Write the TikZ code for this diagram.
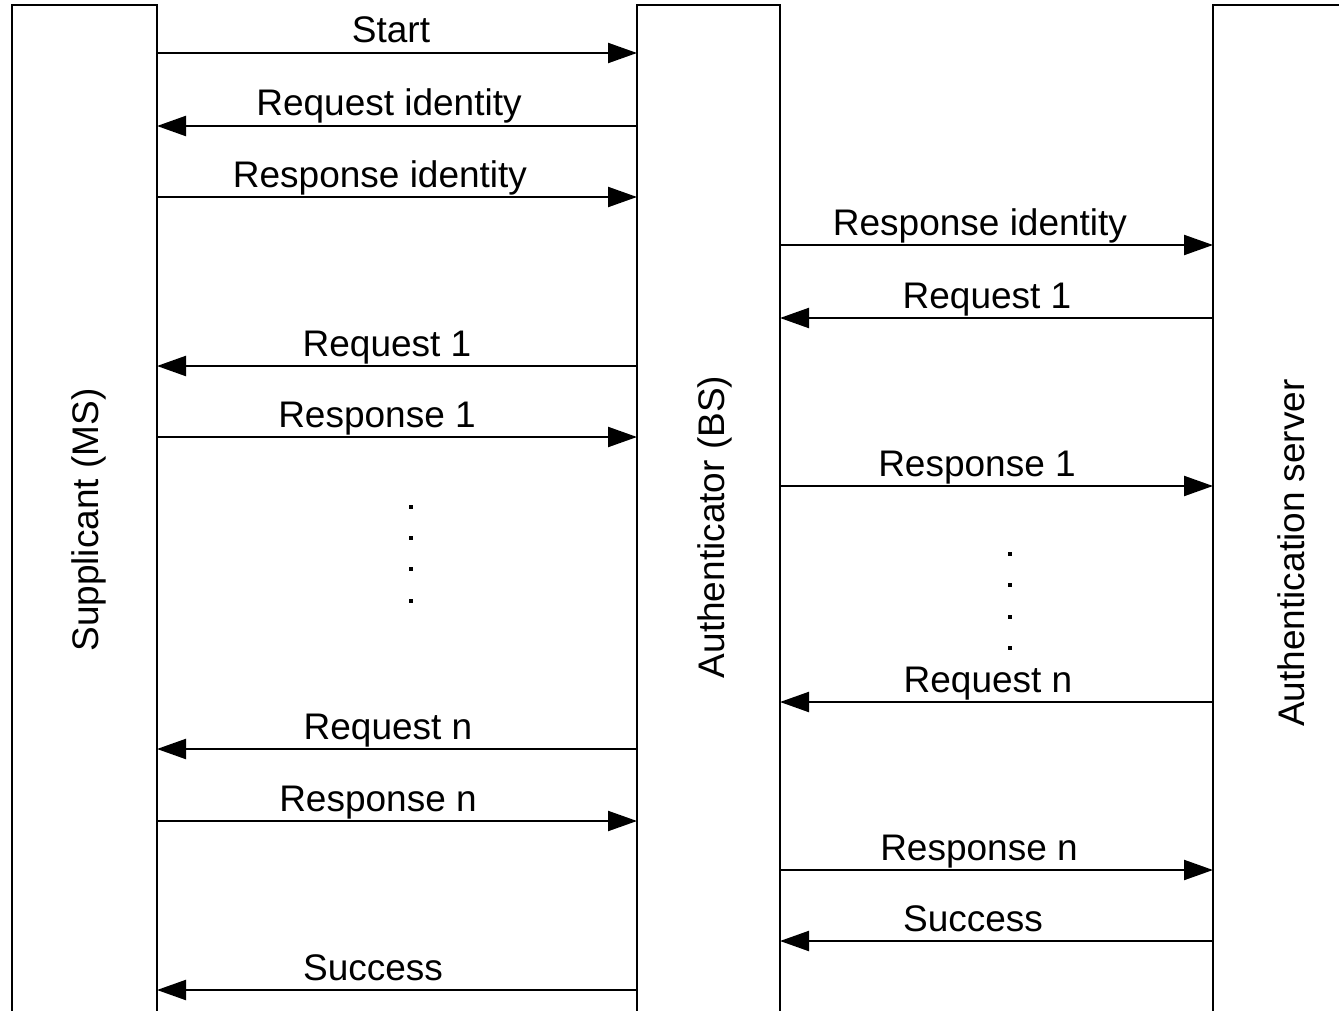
\documentclass[tikz,border=0pt]{standalone}
\usepackage{fontspec}
\setmainfont{Liberation Sans}
\usepackage{tikz}
\usetikzlibrary{arrows.meta}

\tikzset{
    life/.style={draw=black, line width=1.3pt},
    msg/.style={draw=black, line width=1.1pt},
    lbl/.style={anchor=base, inner sep=0pt, font=\fontsize{18.5pt}{22pt}\selectfont},
    side/.style={rotate=90, inner sep=0pt, font=\fontsize{18.5pt}{22pt}\selectfont},
    >={Triangle[length=14.5pt, width=10pt]}
}

\begin{document}
\begin{tikzpicture}[x=0.5pt, y=-0.5pt]
    \useasboundingbox (0,0) rectangle (1339,1011);
    % Lifelines
    \draw[life] (12,1011) |- (157,5) -- (157,1011);
    \draw[life] (637,1011) |- (780,5) -- (780,1011);
    \draw[life] (1213,1011) |- (1339,5);
    % Names
    \node[side] (Sup) at (89,520) {Supplicant (MS)};
    \node[side] (Auth) at (715,527) {Authenticator (BS)};
    \node[side] (Serv) at (1291,553) {Authentication server};
    % Supplicant <-> Authenticator
    \foreach \y/\tx/\tip/\txt in {53/391/->/Start, 126/389/<-/Request identity,
        197/380/->/Response identity, 366/387/<-/Request 1, 437/377/->/Response 1,
        749/388/<-/Request n, 821/378/->/Response n, 990/373/<-/Success} {
        \coordinate (Sup-\y) at (157,\y);
        \coordinate (Auth-\y) at (637,\y);
        \draw[msg,\tip] (Sup-\y) -- (Auth-\y);
        \node[lbl] (Lbl-\y) at (\tx,\y-10) {\txt};
    }
    % Authenticator <-> Authentication server
    \foreach \y/\tx/\tip/\txt in {245/980/->/Response identity, 318/987/<-/Request 1,
        486/977/->/Response 1, 702/988/<-/Request n, 870/979/->/Response n,
        941/973/<-/Success} {
        \coordinate (AuthR-\y) at (780,\y);
        \coordinate (Serv-\y) at (1213,\y);
        \draw[msg,\tip] (AuthR-\y) -- (Serv-\y);
        \node[lbl] (LblR-\y) at (\tx,\y-10) {\txt};
    }
    % Dots
    \foreach \y in {507,538,569,601} {
        \fill (409,\y-2) rectangle (413,\y+2);
    }
    \foreach \y in {554,585,617,648} {
        \fill (1008,\y-2) rectangle (1012,\y+2);
    }
\end{tikzpicture}
\end{document}
